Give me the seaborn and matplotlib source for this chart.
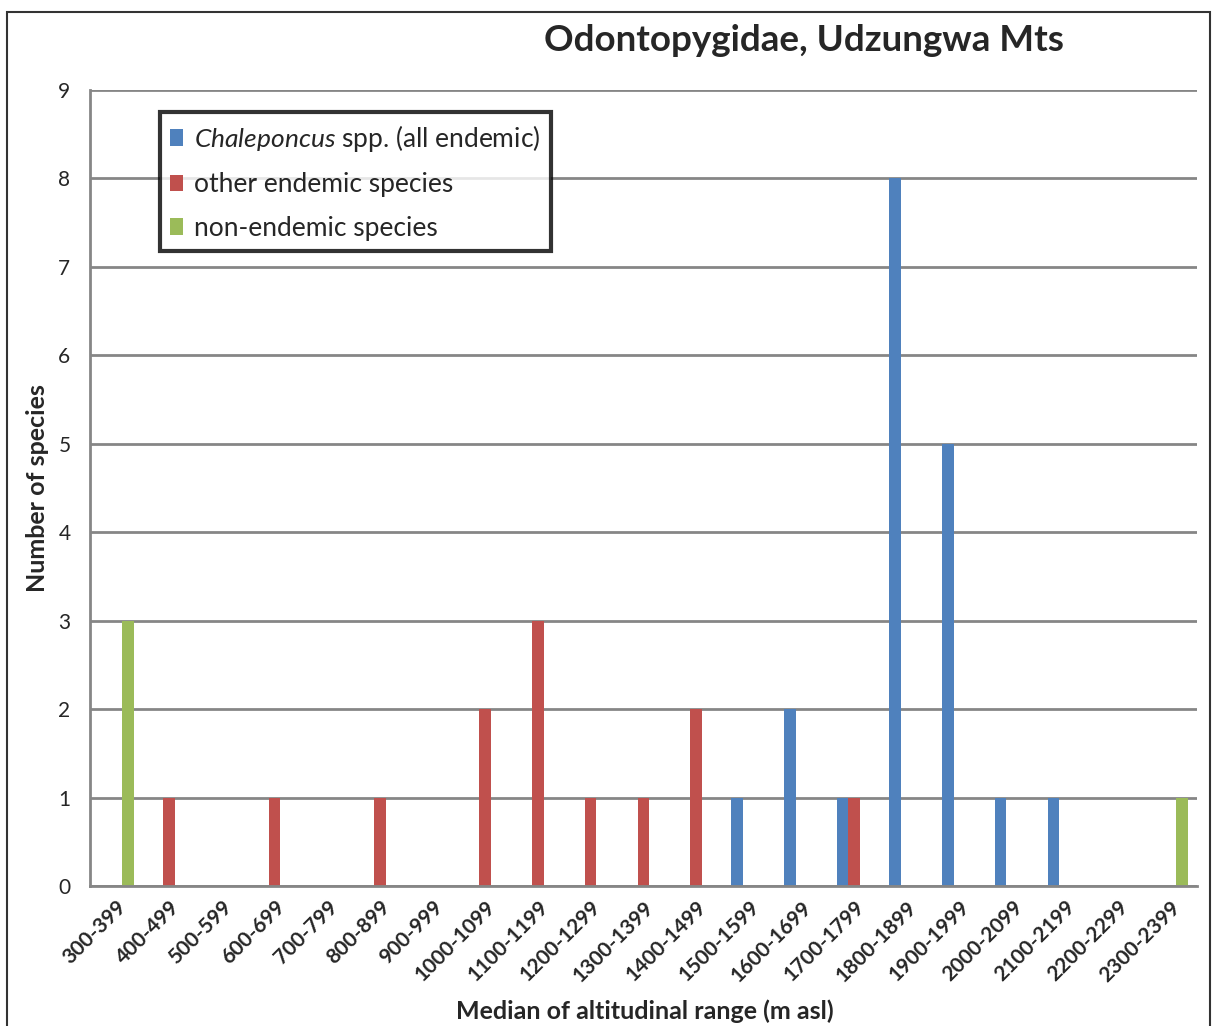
import matplotlib
matplotlib.use("Agg")
import matplotlib.pyplot as plt
import numpy as np
import pandas as pd
import seaborn as sns
from matplotlib.patches import Rectangle

# Datos
categorias = ["300-399", "400-499", "500-599", "600-699", "700-799", "800-899",
              "900-999", "1000-1099", "1100-1199", "1200-1299", "1300-1399",
              "1400-1499", "1500-1599", "1600-1699", "1700-1799", "1800-1899",
              "1900-1999", "2000-2099", "2100-2199", "2200-2299", "2300-2399"]
chaleponcus = [0, 0, 0, 0, 0, 0, 0, 0, 0, 0, 0, 0, 1, 2, 1, 8, 5, 1, 1, 0, 0]
otras_endemicas = [0, 1, 0, 1, 0, 1, 0, 2, 3, 1, 1, 2, 0, 0, 1, 0, 0, 0, 0, 0, 0]
no_endemicas = [3, 0, 0, 0, 0, 0, 0, 0, 0, 0, 0, 0, 0, 0, 0, 0, 0, 0, 0, 0, 1]
series = ["$\\it{Chaleponcus}$ spp. (all endemic)", "other endemic species",
          "non-endemic species"]
colores = ["#4F81BD", "#C0504D", "#9BBB59"]

df = pd.DataFrame({
    "rango": categorias * 3,
    "n": chaleponcus + otras_endemicas + no_endemicas,
    "serie": [series[0]] * 21 + [series[1]] * 21 + [series[2]] * 21,
})

sns.set_theme(style="white")
plt.rcParams["font.family"] = ["Lato", "DejaVu Sans"]
plt.rcParams["mathtext.fontset"] = "custom"
plt.rcParams["mathtext.it"] = "Lato:italic"
plt.rcParams["mathtext.rm"] = "Lato"

fig = plt.figure(figsize=(12.15, 10.26), dpi=100)
ax = fig.add_axes([0.074, 0.1365, 0.911, 0.7758])

sns.barplot(data=df, x="rango", y="n", hue="serie", order=categorias,
            hue_order=series, palette=colores, width=0.66, gap=0,
            linewidth=0, saturation=1, ax=ax)

gris = "#868686"
ax.set_ylim(0, 9)
ax.set_xlim(-0.5, len(categorias) - 0.5)
ax.set_yticks(np.arange(0, 10))
ax.yaxis.grid(True, color=gris, linewidth=2)
ax.set_axisbelow(True)
for lado in ["top", "right"]:
    ax.spines[lado].set_visible(False)
for lado in ["left", "bottom"]:
    ax.spines[lado].set_color(gris)
    ax.spines[lado].set_linewidth(2)

ax.set_xticks(np.arange(-0.5, len(categorias)), minor=True)
ax.tick_params(axis="x", which="minor", length=7, width=2, color=gris, direction="out")
ax.tick_params(axis="x", which="major", length=0, pad=8)
ax.tick_params(axis="y", length=6, width=2, color=gris, direction="out", labelsize=15, pad=8)
ax.set_xticks(np.arange(len(categorias)))
ax.set_xticklabels(categorias, rotation=45, ha="right", rotation_mode="anchor",
                   fontsize=15, fontweight="bold")

ax.set_xlabel("Median of altitudinal range (m asl)", fontsize=18, fontweight="bold")
ax.set_ylabel("Number of species", fontsize=18, fontweight="bold")
ax.xaxis.set_label_coords(0.501, -0.143)
ax.yaxis.set_label_coords(-0.037, 0.5)
fig.text(0.662, 0.961, "Odontopygidae, Udzungwa Mts", ha="center", va="center",
         fontsize=26.5, fontweight="bold")

leg = ax.legend(loc="upper left", bbox_to_anchor=(0.063, 0.972), fontsize=19,
                frameon=True, fancybox=False, edgecolor="black", handlelength=0.5,
                handleheight=0.6, handletextpad=0.4, labelspacing=0.7,
                borderpad=0.4, borderaxespad=0, title=None)
leg.get_frame().set_linewidth(3)

fig.patches.append(Rectangle((0.006, -0.01), 0.99, 0.998, transform=fig.transFigure,
                             fill=False, edgecolor="#333333", linewidth=1.5))

fig.savefig("out.png", dpi=100)
